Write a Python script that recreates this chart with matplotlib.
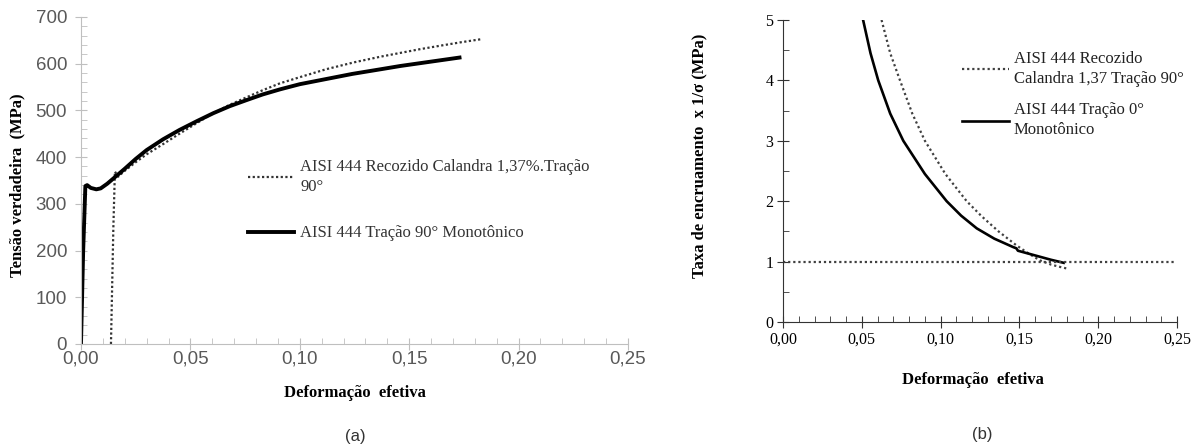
import matplotlib
matplotlib.use("Agg")
import matplotlib.pyplot as plt
from matplotlib.ticker import MultipleLocator, FormatStrFormatter, FuncFormatter

# (a) curva tensao verdadeira x deformacao efetiva
mono_eps = [0.0000, 0.0010, 0.0020, 0.0028, 0.0045, 0.0070, 0.0090, 0.0120, 0.0150,
            0.0200, 0.0250, 0.0300, 0.0375, 0.0450, 0.0530, 0.0605, 0.0680, 0.0757,
            0.0830, 0.0910, 0.1000, 0.1120, 0.1240, 0.1370, 0.1460, 0.1550, 0.1640,
            0.1730]
mono_sig = [0, 200, 338, 340, 334, 331, 333, 343, 355, 375, 396, 415, 438, 458, 477,
            494, 509, 522, 534, 545, 556, 567, 578, 588, 595, 601, 607, 613]

cal_eps = [0.0137, 0.0148, 0.0155, 0.0170, 0.0193, 0.0250, 0.0300, 0.0376, 0.0450,
           0.0530, 0.0605, 0.0680, 0.0757, 0.0830, 0.0910, 0.1000, 0.1120, 0.1250,
           0.1370, 0.1460, 0.1550, 0.1650, 0.1740, 0.1825]
cal_sig = [0, 250, 369, 358, 368, 389, 406, 428, 450, 473, 494, 512, 528, 543, 558,
           571, 588, 603, 615, 623, 631, 639, 646, 652]

# (b) taxa de encruamento x 1/sigma
taxa_mono_eps = [0.0508, 0.0555, 0.0604, 0.0680, 0.0763, 0.0900, 0.1038, 0.1130,
                 0.1229, 0.1340, 0.1460, 0.1480, 0.1490, 0.1560, 0.1630, 0.1700, 0.1780]
taxa_mono = [5.0, 4.45, 4.0, 3.45, 3.0, 2.45, 2.0, 1.76, 1.55, 1.38, 1.24, 1.22,
             1.18, 1.13, 1.08, 1.03, 0.98]

taxa_cal_eps = [0.0625, 0.0680, 0.0742, 0.0820, 0.0900, 0.1030, 0.1165, 0.1260,
                0.1367, 0.1480, 0.1560, 0.1630, 0.1700, 0.1760, 0.1810]
taxa_cal = [5.0, 4.45, 4.0, 3.45, 3.0, 2.45, 2.0, 1.75, 1.5, 1.27, 1.13, 1.02,
            0.95, 0.91, 0.88]

ref_eps = [0.0, 0.249]
ref_val = [1.0, 1.0]

SANS = "Liberation Sans"
SERIF = "Liberation Serif"
comma = FuncFormatter(lambda v, p: ("%.2f" % v).replace(".", ","))

fig = plt.figure(figsize=(11.98, 4.45), dpi=100)

# ---------- (a) ----------
ax1 = fig.add_axes([0.0676, 0.227, 0.4566, 0.735])
ax1.plot(cal_eps, cal_sig, color="#333333", linestyle=(0, (1, 1.1)), linewidth=1.6,
         label="AISI 444 Recozido Calandra 1,37%.Tração\n90°")
ax1.plot(mono_eps, mono_sig, color="black", linewidth=2.8,
         label="AISI 444 Tração 90° Monotônico")
ax1.set_xlim(0, 0.25)
ax1.set_ylim(0, 700)
ax1.xaxis.set_major_locator(MultipleLocator(0.05))
ax1.xaxis.set_minor_locator(MultipleLocator(0.01))
ax1.yaxis.set_major_locator(MultipleLocator(100))
ax1.yaxis.set_minor_locator(MultipleLocator(20))
ax1.xaxis.set_major_formatter(comma)
for s in ["top", "right"]:
    ax1.spines[s].set_visible(False)
for s in ["left", "bottom"]:
    ax1.spines[s].set_color("#bfbfbf")
ax1.tick_params(which="major", direction="inout", length=8, color="#bfbfbf",
                labelcolor="#595959", labelsize=13.5)
ax1.tick_params(axis="x", which="major", pad=1)
ax1.tick_params(axis="y", which="major", pad=6)
ax1.tick_params(which="minor", direction="in", length=4, color="#bfbfbf")
for lab in ax1.get_xticklabels() + ax1.get_yticklabels():
    lab.set_family(SANS)
ax1.set_xlabel("Deformação  efetiva", family=SERIF, fontweight="bold", fontsize=12)
ax1.set_ylabel("Tensão verdadeira  (MPa)", family=SERIF, fontweight="bold", fontsize=12)
ax1.xaxis.set_label_coords(0.501, -0.125)
ax1.yaxis.set_label_coords(-0.102, 0.486)
leg1 = ax1.legend(loc="upper left", bbox_to_anchor=(0.305, 0.565), frameon=False,
                  prop={"family": SERIF, "size": 12}, borderpad=0, borderaxespad=0,
                  handlelength=2.8, handletextpad=0.35, labelspacing=1.8)
for t in leg1.get_texts():
    t.set_color("#333333")
    t.set_linespacing(1.35)

# ---------- (b) ----------
ax2 = fig.add_axes([0.6536, 0.2764, 0.329, 0.6787])
ax2.plot(taxa_cal_eps, taxa_cal, color="#404040", linestyle=(0, (1, 1.3)), linewidth=1.6,
         label="AISI 444 Recozido\nCalandra 1,37 Tração 90°")
ax2.plot(taxa_mono_eps, taxa_mono, color="black", linewidth=1.9,
         label="AISI 444 Tração 0°\nMonotônico")
ax2.plot(ref_eps, ref_val, color="#404040", linestyle=(0, (1, 1.3)), linewidth=1.6)
ax2.set_xlim(0, 0.25)
ax2.set_ylim(0, 5)
ax2.xaxis.set_major_locator(MultipleLocator(0.05))
ax2.xaxis.set_minor_locator(MultipleLocator(0.01))
ax2.yaxis.set_major_locator(MultipleLocator(1))
ax2.yaxis.set_minor_locator(MultipleLocator(0.5))
ax2.xaxis.set_major_formatter(comma)
ax2.yaxis.set_major_formatter(FormatStrFormatter("%d"))
for s in ["top", "right"]:
    ax2.spines[s].set_visible(False)
for s in ["left", "bottom"]:
    ax2.spines[s].set_color("#333333")
ax2.tick_params(which="major", direction="inout", length=8, color="#333333",
                labelcolor="black", labelsize=11.5, pad=3)
ax2.tick_params(which="minor", direction="in", length=4, color="#333333")
for lab in ax2.get_xticklabels() + ax2.get_yticklabels():
    lab.set_family(SERIF)
ax2.set_xlabel("Deformação  efetiva", family=SERIF, fontweight="bold", fontsize=12)
ax2.set_ylabel("Taxa de encruamento  x 1/σ (MPa)", family=SERIF, fontweight="bold",
               fontsize=12)
ax2.xaxis.set_label_coords(0.482, -0.166)
ax2.yaxis.set_label_coords(-0.193, 0.55)
leg2 = ax2.legend(loc="upper left", bbox_to_anchor=(0.454, 0.897), frameon=False,
                  prop={"family": SERIF, "size": 12}, borderpad=0, borderaxespad=0,
                  handlelength=2.8, handletextpad=0.3, labelspacing=0.9)
for t in leg2.get_texts():
    t.set_color("#222222")
    t.set_linespacing(1.35)

fig.text(355 / 1198, 1 - 437 / 445, "(a)", family=SANS, fontsize=12, color="#333333",
         ha="center", va="center")
fig.text(982 / 1198, 1 - 435 / 445, "(b)", family=SANS, fontsize=12, color="#333333",
         ha="center", va="center")

fig.savefig("out.png", dpi=100)
